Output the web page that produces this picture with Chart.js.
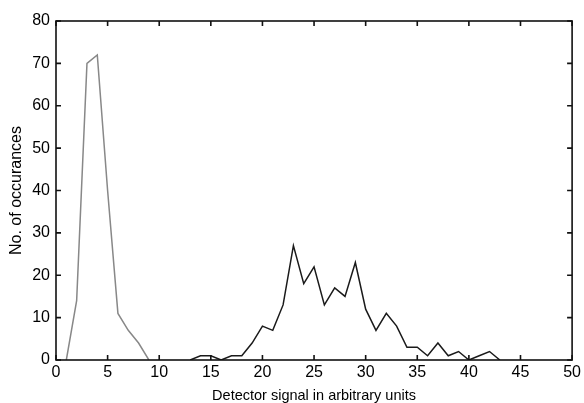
<!DOCTYPE html>
<html>
<head>
<meta charset="utf-8">
<script src="https://cdn.jsdelivr.net/npm/chart.js@4/dist/chart.umd.min.js"></script>
<style>
  html, body { margin: 0; padding: 0; background: #fff; }
  #wrap { width: 584px; height: 403px; }
</style>
</head>
<body>
<div id="wrap"><canvas id="histo"></canvas></div>
<script>
// detector signal bins (x) and counts (y), two populations
const lowSignal = [1, 2, 3, 4, 5, 6, 7, 8, 9];
const lowCounts = [0, 14, 70, 72, 40, 11, 7, 4, 0];

const highSignal = [13, 14, 15, 16, 17, 18, 19, 20, 21, 22, 23, 24, 25, 26, 27, 28,
  29, 30, 31, 32, 33, 34, 35, 36, 37, 38, 39, 40, 41, 42, 43];
const highCounts = [0, 1, 1, 0, 1, 1, 4, 8, 7, 13, 27, 18, 22, 13, 17, 15,
  23, 12, 7, 11, 8, 3, 3, 1, 4, 1, 2, 0, 1, 2, 0];

const xTicks = [0, 5, 10, 15, 20, 25, 30, 35, 40, 45, 50];
const yTicks = [0, 10, 20, 30, 40, 50, 60, 70, 80];

function toPoints(xs, ys) {
  return xs.map((v, i) => ({ x: v, y: ys[i] }));
}

// box round the plot with short inward ticks on all four sides
const boxTicks = {
  id: 'boxTicks',
  afterDraw(chart) {
    const { ctx, chartArea: a, scales: { x, y } } = chart;
    const len = 5;
    ctx.save();
    ctx.strokeStyle = '#111';
    ctx.lineWidth = 1.6;
    ctx.strokeRect(a.left, a.top, a.right - a.left, a.bottom - a.top);
    ctx.beginPath();
    xTicks.forEach(function (t) {
      const px = x.getPixelForValue(t);
      ctx.moveTo(px, a.bottom); ctx.lineTo(px, a.bottom - len);
      ctx.moveTo(px, a.top); ctx.lineTo(px, a.top + len);
    });
    yTicks.forEach(function (t) {
      const py = y.getPixelForValue(t);
      ctx.moveTo(a.left, py); ctx.lineTo(a.left + len, py);
      ctx.moveTo(a.right, py); ctx.lineTo(a.right - len, py);
    });
    ctx.stroke();
    ctx.restore();
  }
};

const sans = '"Liberation Sans", Arial, sans-serif';

new Chart(document.getElementById('histo'), {
  type: 'line',
  data: {
    datasets: [{
      data: toPoints(lowSignal, lowCounts),
      borderColor: '#888888',
      borderWidth: 1.5,
      pointRadius: 0,
      tension: 0,
      fill: false
    }, {
      data: toPoints(highSignal, highCounts),
      borderColor: '#1a1a1a',
      borderWidth: 1.5,
      pointRadius: 0,
      tension: 0,
      fill: false
    }]
  },
  options: {
    responsive: true,
    maintainAspectRatio: false,
    animation: false,
    layout: { padding: { top: 21, right: 11, left: 0, bottom: 0 } },
    plugins: {
      legend: { display: false },
      tooltip: { enabled: false }
    },
    scales: {
      x: {
        type: 'linear',
        min: 0,
        max: 50,
        grid: { display: false, drawTicks: false },
        border: { display: false },
        afterBuildTicks: function (scale) {
          scale.ticks = xTicks.map(v => ({ value: v }));
        },
        afterFit: function (scale) { scale.height = 43; },
        ticks: {
          padding: 3,
          color: '#000',
          maxRotation: 0,
          font: { family: sans, size: 16 }
        },
        title: {
          display: true,
          text: 'Detector signal in arbitrary units',
          color: '#000',
          padding: { top: 0, bottom: 0 },
          font: { family: sans, size: 14.5, lineHeight: 1 }
        }
      },
      y: {
        min: 0,
        max: 80,
        grid: { display: false, drawTicks: false },
        border: { display: false },
        afterBuildTicks: function (scale) {
          scale.ticks = yTicks.map(v => ({ value: v }));
        },
        afterFit: function (scale) { scale.width = 56; },
        ticks: {
          padding: 6,
          color: '#000',
          font: { family: sans, size: 16 }
        },
        title: {
          display: true,
          text: 'No. of occurances',
          color: '#000',
          padding: { top: 7, bottom: 0 },
          font: { family: sans, size: 16 }
        }
      }
    }
  },
  plugins: [boxTicks]
});
</script>
</body>
</html>
